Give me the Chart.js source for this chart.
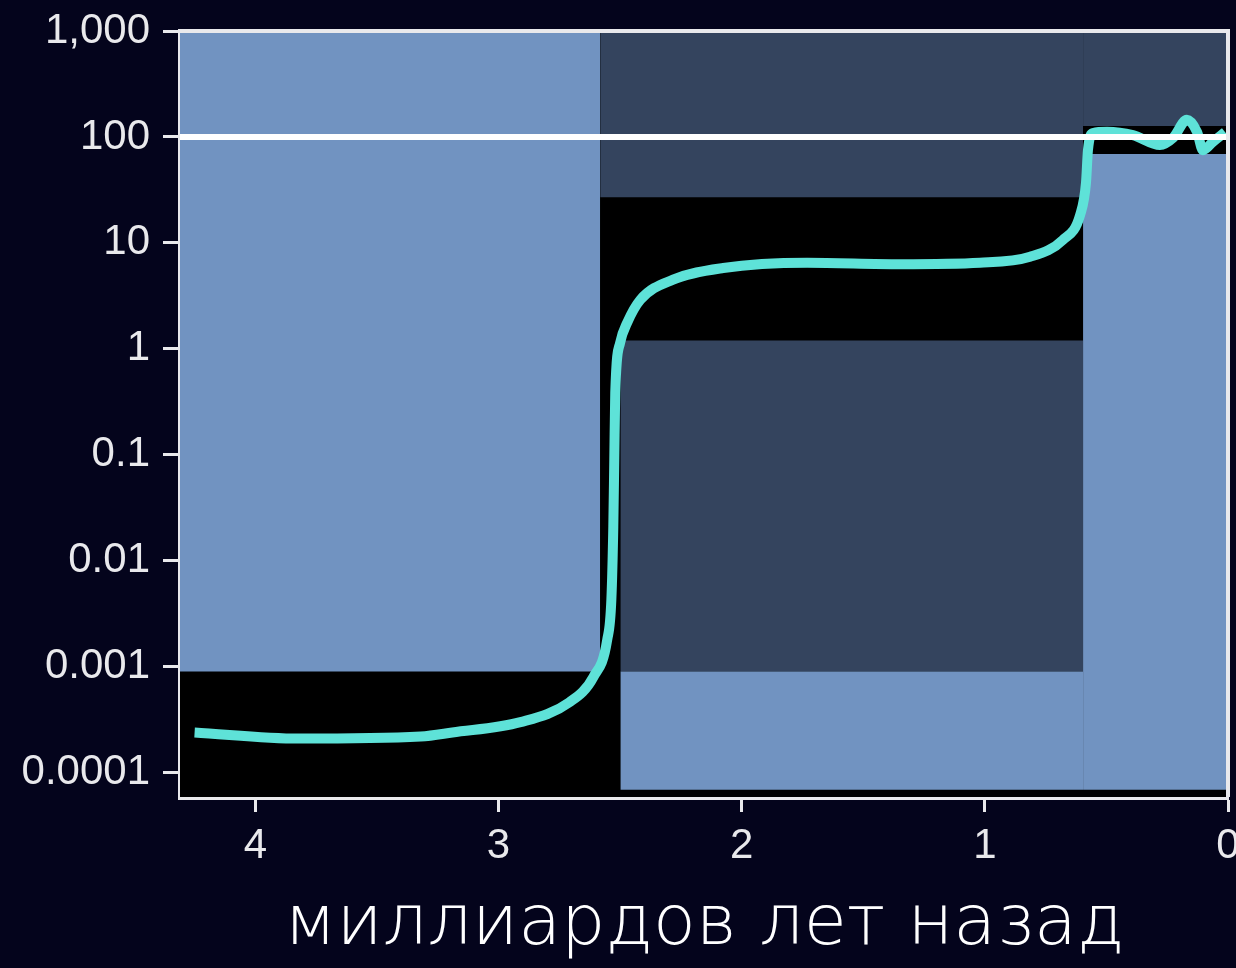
<!DOCTYPE html>
<html>
<head>
<meta charset="utf-8">
<script src="https://cdn.jsdelivr.net/npm/chart.js@4/dist/chart.umd.min.js"></script>
<style>
  html, body { margin: 0; padding: 0; background: #04041c; }
  #wrap { width: 1236px; height: 968px; position: relative; }
</style>
</head>
<body>
<div id="wrap"><canvas id="o2Chart"></canvas></div>
<script>
// axis ranges and ticks
const ageMin = 0;
const ageMax = 4.31;
const ageTicks = [4, 3, 2, 1, 0];
const o2Min = 5.9e-5;
const o2Max = 1000;
const o2Ticks = [1000, 100, 10, 1, 0.1, 0.01, 0.001, 0.0001];
const o2TickLabels = ['1,000', '100', '10', '1', '0.1', '0.01', '0.001', '0.0001'];

// oxygen curve (billion years ago, % of present level)
const curveAge = [4.25, 3.82, 3.32, 3.19, 2.91, 2.71, 2.61, 2.553, 2.536, 2.528, 2.524, 2.52, 2.50, 2.471, 2.417,
                  2.282, 2.076, 1.731, 1.348, 1.02, 0.814, 0.678, 0.608, 0.584, 0.576, 0.555, 0.497, 0.391,
                  0.28, 0.226, 0.169, 0.127, 0.103, 0.062, 0.012];
const curveO2 = [0.00024, 0.00021, 0.00022, 0.00024, 0.0003, 0.00046, 0.0008, 0.0018, 0.0043, 0.021, 0.09, 0.385, 1.14, 1.76, 2.9,
                 4.5, 5.8, 6.5, 6.3, 6.5, 7.4, 10.7, 18.4, 37, 75, 109, 112, 104,
                 84, 98, 145, 111, 75, 90, 111];

// background bands, in painting order
const bandFrom = [4.31, 4.31, 2.582, 0.596, 2.499, 2.499, 0.596];
const bandTo   = [0,    2.582, 0.596, 0,    0.596, 0.596, 0];
const bandLow  = [1e-6, 0.0009, 27,   127,  0.0009, 6.9e-5, 6.9e-5];
const bandHigh = [1000, 1000,   1000, 1000, 1.2,    0.0009, 69];
const bandKind = ['none', 'high', 'mid', 'mid', 'mid', 'high', 'high'];

const presentLevel = 100;

const bandColors = { none: '#000000', mid: '#34445e', high: '#7193c1' };
const axisColor = '#e9e9ec';

const datasets = [];
datasets.push({
  label: 'present',
  data: [{ x: ageMax, y: presentLevel }, { x: ageMin, y: presentLevel }],
  borderColor: '#ffffff',
  borderWidth: 6,
  pointRadius: 0,
  fill: false,
  order: 0
});
datasets.push({
  label: 'O2',
  data: curveAge.map((a, i) => ({ x: a, y: curveO2[i] })),
  borderColor: '#5ee2d8',
  borderWidth: 10,
  pointRadius: 0,
  cubicInterpolationMode: 'monotone',
  fill: false,
  order: 1
});
bandFrom.forEach((from, i) => {
  datasets.push({
    label: 'band' + i,
    data: [{ x: from, y: bandHigh[i] }, { x: bandTo[i], y: bandHigh[i] }],
    borderWidth: 0,
    pointRadius: 0,
    backgroundColor: bandColors[bandKind[i]],
    fill: { value: bandLow[i] },
    order: 100 - i
  });
});

// top and right edge of the frame
const framePlugin = {
  id: 'frame',
  afterDatasetsDraw(chart) {
    const { ctx, chartArea } = chart;
    ctx.save();
    ctx.strokeStyle = axisColor;
    ctx.lineWidth = 4;
    ctx.beginPath();
    ctx.moveTo(chartArea.left, chartArea.top);
    ctx.lineTo(chartArea.right, chartArea.top);
    ctx.lineTo(chartArea.right, chartArea.bottom);
    ctx.stroke();
    ctx.restore();
  }
};

new Chart(document.getElementById('o2Chart'), {
  type: 'line',
  data: { datasets: datasets },
  plugins: [framePlugin],
  options: {
    responsive: true,
    maintainAspectRatio: false,
    animation: false,
    layout: { padding: { top: 31, right: 8, bottom: 0, left: 0 } },
    plugins: { legend: { display: false }, tooltip: { enabled: false } },
    scales: {
      x: {
        type: 'linear',
        reverse: true,
        min: ageMin,
        max: ageMax,
        afterBuildTicks: (scale) => { scale.ticks = ageTicks.map(v => ({ value: v })); },
        afterFit: (scale) => { scale.height = 171; scale.paddingLeft = 0; scale.paddingRight = 0; },
        grid: { drawOnChartArea: false, tickLength: 15, tickWidth: 3, tickColor: axisColor },
        border: { display: true, color: axisColor, width: 5 },
        ticks: {
          color: axisColor,
          padding: 9,
          maxRotation: 0,
          font: { family: 'Liberation Sans, Arial, sans-serif', size: 42 },
          callback: (v) => String(v)
        },
        title: {
          display: true,
          text: 'миллиардов лет назад',
          color: '#ffffff',
          padding: { top: 0, bottom: 0 },
          font: { family: 'DejaVu Sans', size: 70, weight: 200 }
        }
      },
      y: {
        type: 'logarithmic',
        min: o2Min,
        max: o2Max,
        afterBuildTicks: (scale) => { scale.ticks = o2Ticks.map(v => ({ value: v })); },
        afterFit: (scale) => { scale.width = 180; scale.paddingTop = 0; scale.paddingBottom = 0; },
        grid: { drawOnChartArea: false, tickLength: 17, tickWidth: 3, tickColor: axisColor },
        border: { display: true, color: axisColor, width: 5 },
        ticks: {
          color: axisColor,
          padding: 13,
          font: { family: 'Liberation Sans, Arial, sans-serif', size: 42 },
          callback: (v) => {
            const i = o2Ticks.indexOf(v);
            return i >= 0 ? o2TickLabels[i] : '';
          }
        }
      }
    }
  }
});
</script>
</body>
</html>
